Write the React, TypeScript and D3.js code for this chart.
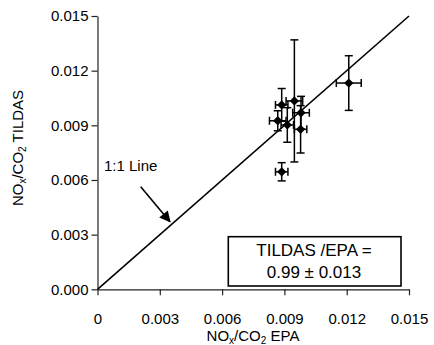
import React, { useEffect, useRef } from 'react';
import * as d3 from 'd3';

// NOx/CO2 ratios, EPA (x) vs TILDAS (y), with error bars
const epa = [0.0121, 0.00887, 0.00948, 0.0098, 0.00868, 0.00914, 0.00978, 0.00887];
const tildas = [0.01132, 0.01012, 0.01034, 0.00969, 0.00925, 0.00902, 0.00878, 0.00645];
const epaErr = [0.0006, 0.0003, 0.0004, 0.0004, 0.0004, 0.0003, 0.0003, 0.0003];
const tildasErr = [0.0015, 0.0009, 0.00335, 0.0009, 0.00055, 0.00095, 0.0013, 0.0005];

const ticks = [0, 0.003, 0.006, 0.009, 0.012, 0.015];
const oneToOne = [0, 0.015];
const arrowFrom = [0.00208, 0.00563];
const arrowTo = [0.00349, 0.00371];
const ratioLines = ['TILDAS /EPA =', '0.99 \u00b1 0.013'];

const FONT = '"Liberation Sans", Arial, sans-serif';

const App: React.FC = () => {
  const ref = useRef<SVGSVGElement | null>(null);

  useEffect(() => {
    const svg = d3.select(ref.current);
    svg.selectAll('*').remove();

    const x = d3.scaleLinear().domain([0, 0.015]).range([97.5, 409]);
    const y = d3.scaleLinear().domain([0, 0.015]).range([289.3, 16]);

    const pts = epa.map((e, i) => ({
      x: e,
      y: tildas[i],
      ex: epaErr[i],
      ey: tildasErr[i],
    }));

    // axes
    const xAxis = svg
      .append('g')
      .attr('transform', `translate(0,${y(0)})`)
      .call(
        d3
          .axisBottom(x)
          .tickValues(ticks)
          .tickSize(6)
          .tickSizeOuter(0)
          .tickFormat((d) => (+d === 0 ? '0' : d3.format('.3f')(+d)))
      );
    xAxis.selectAll('text').attr('dy', '1.7em');

    svg
      .append('g')
      .attr('transform', `translate(${x(0)},0)`)
      .call(
        d3
          .axisLeft(y)
          .tickValues(ticks)
          .tickSize(6)
          .tickSizeOuter(0)
          .tickFormat(d3.format('.3f'))
      );

    svg
      .selectAll('.tick text')
      .style('font-family', FONT)
      .style('font-size', '15px')
      .style('fill', '#000');
    svg.selectAll('.domain, .tick line').attr('stroke', '#222').attr('stroke-width', 1.2);

    // 1:1 line
    svg
      .append('line')
      .attr('x1', x(oneToOne[0]))
      .attr('y1', y(oneToOne[0]))
      .attr('x2', x(oneToOne[1]))
      .attr('y2', y(oneToOne[1]))
      .attr('stroke', '#000')
      .attr('stroke-width', 1.6);

    // error bars
    const cap = 4;
    const eb = svg.append('g').attr('stroke', '#000').attr('stroke-width', 1.5);
    pts.forEach((p) => {
      const cx = x(p.x);
      const cy = y(p.y);
      const top = y(p.y + p.ey);
      const bot = y(p.y - p.ey);
      const left = x(p.x - p.ex);
      const right = x(p.x + p.ex);
      eb.append('line').attr('x1', cx).attr('x2', cx).attr('y1', top).attr('y2', bot);
      eb.append('line').attr('x1', cx - cap).attr('x2', cx + cap).attr('y1', top).attr('y2', top);
      eb.append('line').attr('x1', cx - cap).attr('x2', cx + cap).attr('y1', bot).attr('y2', bot);
      eb.append('line').attr('x1', left).attr('x2', right).attr('y1', cy).attr('y2', cy);
      eb.append('line').attr('x1', left).attr('x2', left).attr('y1', cy - cap).attr('y2', cy + cap);
      eb.append('line').attr('x1', right).attr('x2', right).attr('y1', cy - cap).attr('y2', cy + cap);
    });

    // diamonds
    svg
      .append('g')
      .selectAll('path')
      .data(pts)
      .join('path')
      .attr('d', d3.symbol(d3.symbolDiamond2, 55)() as string)
      .attr('transform', (d) => `translate(${x(d.x)},${y(d.y)})`)
      .attr('fill', '#000');

    // arrow + label
    const defs = svg.append('defs');
    defs
      .append('marker')
      .attr('id', 'arrowhead')
      .attr('viewBox', '0 0 10 10')
      .attr('refX', 9)
      .attr('refY', 5)
      .attr('markerWidth', 8)
      .attr('markerHeight', 7)
      .attr('orient', 'auto')
      .append('path')
      .attr('d', 'M0,0 L10,5 L0,10 Z')
      .attr('fill', '#000');

    svg
      .append('line')
      .attr('x1', x(arrowFrom[0]))
      .attr('y1', y(arrowFrom[1]))
      .attr('x2', x(arrowTo[0]))
      .attr('y2', y(arrowTo[1]))
      .attr('stroke', '#000')
      .attr('stroke-width', 1.6)
      .attr('marker-end', 'url(#arrowhead)');

    svg
      .append('text')
      .attr('x', 104)
      .attr('y', 171)
      .style('font-family', FONT)
      .style('font-size', '15px')
      .text('1:1 Line');

    // ratio box
    svg
      .append('rect')
      .attr('x', 228.3)
      .attr('y', 236.7)
      .attr('width', 172.7)
      .attr('height', 49.3)
      .attr('fill', '#fff')
      .attr('stroke', '#000')
      .attr('stroke-width', 1.6);

    svg
      .append('g')
      .selectAll('text')
      .data(ratioLines)
      .join('text')
      .attr('x', 314)
      .attr('y', (_, i) => 256 + i * 21.5)
      .attr('text-anchor', 'middle')
      .style('font-family', FONT)
      .style('font-size', '17px')
      .text((d) => d);

    // axis titles with subscripts
    const xt = svg
      .append('text')
      .attr('x', 253)
      .attr('y', 341)
      .attr('text-anchor', 'middle')
      .style('font-family', FONT)
      .style('font-size', '15px');
    xt.append('tspan').text('NO');
    xt.append('tspan').attr('dy', 3).style('font-size', '10px').text('x');
    xt.append('tspan').attr('dy', -3).text('/CO');
    xt.append('tspan').attr('dy', 3).style('font-size', '10px').text('2');
    xt.append('tspan').attr('dy', -3).text(' EPA');

    const yt = svg
      .append('text')
      .attr('transform', 'translate(23,148) rotate(-90)')
      .attr('text-anchor', 'middle')
      .style('font-family', FONT)
      .style('font-size', '15px');
    yt.append('tspan').text('NO');
    yt.append('tspan').attr('dy', 3).style('font-size', '10px').text('x');
    yt.append('tspan').attr('dy', -3).text('/CO');
    yt.append('tspan').attr('dy', 3).style('font-size', '10px').text('2');
    yt.append('tspan').attr('dy', -3).text(' TILDAS');
  }, []);

  return (
    <svg
      ref={ref}
      width={434}
      height={345}
      style={{ position: 'absolute', left: 0, top: 0, background: '#fff' }}
    />
  );
};

export default App;
